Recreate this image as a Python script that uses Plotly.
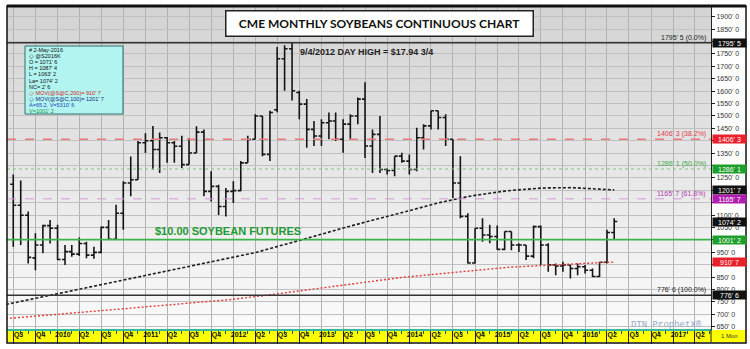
import plotly.graph_objects as go
import pandas as pd

# ---------------- data ----------------
month_start = "2009-07-01"          # first monthly bar (Jul 2009) ... last bar May 2016
bar_open = [1225, 1140, 1100, 928, 980, 1058,
            1047, 921, 953, 943, 986, 939, 950, 1051, 1003, 1108, 1230, 1243,
            1392, 1400, 1365, 1412, 1392, 1378, 1304, 1351, 1435, 1196, 1216, 1135,
            1196, 1199, 1311, 1406, 1500, 1345, 1525, 1731, 1771, 1595, 1548, 1446,
            1419, 1473, 1480, 1406, 1467, 1500, 1568, 1379, 1426, 1284, 1280, 1338,
            1318, 1284, 1412, 1460, 1521, 1494, 1406, 1230, 1095, 907, 1047, 1020,
            1014, 962, 1034, 980, 980, 935, 1054, 980, 899, 895, 899, 885,
            892, 878, 853, 910, 1030]
bar_high = [1264, 1240, 1115, 1027, 1061, 1081,
            1061, 980, 980, 1010, 993, 973, 1054, 1081, 1142, 1237, 1337, 1399,
            1430, 1460, 1433, 1415, 1399, 1420, 1410, 1459, 1446, 1277, 1223, 1210,
            1237, 1318, 1420, 1507, 1500, 1521, 1778, 1785, 1795, 1602, 1568, 1480,
            1487, 1514, 1514, 1487, 1507, 1575, 1636, 1446, 1500, 1290, 1338, 1352,
            1345, 1453, 1467, 1521, 1521, 1507, 1406, 1338, 1108, 1047, 1088, 1061,
            1058, 1034, 1034, 987, 980, 1058, 1058, 987, 905, 912, 899, 905,
            899, 885, 912, 1041, 1087.5]
bar_low = [973, 980, 905, 878, 946, 986,
           919, 899, 932, 935, 926, 924, 946, 1000, 1000, 1041, 1176, 1243,
           1351, 1284, 1270, 1311, 1311, 1290, 1304, 1351, 1176, 1155, 1101, 1095,
           1149, 1196, 1311, 1406, 1338, 1318, 1515, 1602, 1562, 1487, 1372, 1379,
           1379, 1406, 1399, 1352, 1406, 1467, 1331, 1270, 1270, 1264, 1257, 1311,
           1264, 1277, 1365, 1446, 1446, 1379, 1169, 1088, 905, 905, 993, 987,
           961, 959, 959, 952, 919, 926, 899, 872, 858, 872, 845, 858,
           865, 851, 851, 905, 1000]
bar_close = [1140, 1100, 930, 980, 1058, 1047,
             921, 953, 943, 986, 939, 950, 1051, 1003, 1108, 1230, 1243, 1392,
             1400, 1365, 1412, 1392, 1378, 1304, 1351, 1435, 1196, 1216, 1135, 1196,
             1199, 1311, 1405, 1500, 1345, 1514, 1731, 1771, 1602, 1548, 1446, 1419,
             1473, 1480, 1406, 1467, 1500, 1568, 1379, 1426, 1284, 1280, 1338, 1318,
             1284, 1412, 1460, 1521, 1494, 1406, 1230, 1095, 907, 1047, 1020, 1014,
             962, 1034, 980, 980, 935, 1054, 980, 899, 895, 899, 885, 892,
             878, 853, 910, 1030, 1074.25]

ma_start = "2009-06-01"             # moving averages, monthly from Jun 2009
ma100 = [740, 746, 752, 758, 764, 770, 777, 783, 789, 795, 801, 807, 813,
         819, 825, 831, 838, 844, 850, 856, 862, 868, 874, 880, 886,
         892, 899, 905, 911, 917, 923, 929, 935, 941, 949, 957, 966,
         974, 982, 990, 998, 1007, 1015, 1023, 1031, 1039, 1048, 1056, 1064,
         1072, 1080, 1089, 1097, 1105, 1113, 1120, 1128, 1135, 1142, 1149, 1156,
         1163, 1169, 1175, 1180, 1185, 1190, 1194, 1197, 1200, 1203, 1205, 1207,
         1209, 1210, 1211, 1211, 1211, 1210, 1209, 1207, 1205, 1203, 1202]
ma200 = [683, 685, 688, 690, 693, 695, 698, 700, 703, 705, 708, 710, 713,
         715, 718, 720, 723, 725, 728, 730, 733, 735, 738, 740, 743,
         745, 748, 750, 753, 756, 758, 761, 764, 767, 771, 775, 779,
         783, 787, 791, 795, 799, 803, 807, 811, 815, 819, 823, 827,
         831, 835, 839, 843, 846, 849, 852, 855, 858, 861, 864, 867,
         870, 873, 876, 879, 882, 885, 887, 889, 891, 892, 894, 895,
         897, 898, 900, 901, 903, 904, 906, 907, 908, 910, 911]

quarter_labels = ["Q3", "Q4", "2010", "Q2", "Q3", "Q4", "2011", "Q2", "Q3", "Q4",
                  "2012", "Q2", "Q3", "Q4", "2013", "Q2", "Q3", "Q4", "2014", "Q2",
                  "Q3", "Q4", "2015", "Q2", "Q3", "Q4", "2016", "Q2", "Q3", "Q4",
                  "2017", "Q2"]
y_tick_vals = [650, 700, 750, 800, 850, 900, 950, 1000, 1050, 1100, 1150, 1200, 1250,
               1300, 1350, 1400, 1450, 1500, 1550, 1600, 1650, 1700, 1750, 1800, 1850, 1900]
y_tick_text = ["650' 0", "700' 0", "750' 0", "800' 0", "850' 0", "", "950' 0", "",
               "1050' 0", "1100' 0", "", "", "1250' 0", "", "1350' 0", "", "1450' 0",
               "1500' 0", "1550' 0", "1600' 0", "1650' 0", "1700' 0", "1750' 0", "",
               "1850' 0", "1900' 0"]

fib_levels = [1795.625, 1406.4, 1286.2, 1165.9, 776.75]
fib_labels = ["1795' 5 (0.0%)", "1406' 3 (38.2%)", "1286' 1 (50.0%)",
              "1165' 7 (61.8%)", "776' 6 (100.0%)"]
ten_dollar_level = 1001.25

axis_box_values = [1795.625, 1406.4, 1286.2, 1201.9, 1165.9, 1074.25, 1001.25, 910.9, 776.75]
axis_box_text = ["1795' 5", "1406' 3", "1286' 1", "1201' 7", "1165' 7",
                 "1074' 2", "1001' 2", "910' 7", "776' 6"]

info_lines = ["# 2-May-2016", "\u25c7 @S2016K", "O = 1071' 6", "H = 1087' 4",
              "L = 1063' 2", "La= 1074' 2", "NC= 2' 6",
              "\u25c7 MOV(@S@C,200)= 910' 7", "\u25c7 MOV(@S@C,100)= 1201' 7",
              "A=65.2, V=5310' 6", "V=1001' 2"]

# ---------------- styling helpers ----------------
W, H = 750, 349
L_, R_, T_, B_ = 7, 39, 7, 20
PW, PH = W - L_ - R_, H - T_ - B_


def px(X):
    return (X - L_) / PW


def py(Y):
    return (H - B_ - Y) / PH


month_dates = pd.date_range(month_start, periods=len(bar_open), freq="MS")
ma_dates = pd.date_range(ma_start, periods=len(ma100), freq="MS")
quarter_starts = pd.date_range("2009-07-01", periods=len(quarter_labels), freq="QS")
label_pos = quarter_starts + pd.Timedelta(days=22)

fig = go.Figure()
fig.add_trace(go.Scatter(x=ma_dates, y=ma200, mode="lines",
                         line=dict(color="#e03a3a", width=1.4, dash="2px,2px"),
                         hoverinfo="skip", showlegend=False))
fig.add_trace(go.Scatter(x=ma_dates, y=ma100, mode="lines",
                         line=dict(color="#1e1e1e", width=1.6, dash="3px,2px"),
                         hoverinfo="skip", showlegend=False))
fig.add_trace(go.Ohlc(x=month_dates, open=bar_open, high=bar_high, low=bar_low,
                      close=bar_close, tickwidth=0.45,
                      increasing=dict(line=dict(color="#151515", width=1.6)),
                      decreasing=dict(line=dict(color="#151515", width=1.6)),
                      showlegend=False))
fig.add_trace(go.Scatter(x=[quarter_starts[0]], y=[None], xaxis="x2", mode="lines",
                         hoverinfo="skip", showlegend=False))

shapes = []
# gradient plot background
n_strips = 24
for i in range(n_strips):
    g = int(212 + (250 - 212) * i / (n_strips - 1))
    shapes.append(dict(type="rect", xref="paper", yref="paper", x0=0, x1=1,
                       y0=1 - (i + 1) / n_strips, y1=1 - i / n_strips,
                       fillcolor=f"rgb({g},{g},{g})", line=dict(width=0), layer="below"))
# yellow date band
shapes.append(dict(type="rect", xref="paper", yref="paper", x0=0, x1=px(746),
                   y0=py(342), y1=py(330), fillcolor="#ffff00",
                   line=dict(width=0), layer="below"))
shapes.append(dict(type="line", xref="paper", yref="paper", x0=1, x1=1,
                   y0=py(342), y1=py(329), line=dict(color="#222", width=1)))
# fib / reference lines
fib_styles = [dict(color="#333333", width=1.5),
              dict(color="#ec7a7a", width=1.5, dash="dash"),
              dict(color="#7cc47c", width=1, dash="dot"),
              dict(color="#d49ad4", width=1, dash="dash"),
              dict(color="#333333", width=1.5)]
for lvl, st in zip(fib_levels, fib_styles):
    shapes.append(dict(type="line", xref="paper", yref="y", x0=0, x1=1, y0=lvl, y1=lvl,
                       line=st, layer="above"))
shapes.append(dict(type="line", xref="paper", yref="y", x0=0, x1=1,
                   y0=ten_dollar_level, y1=ten_dollar_level,
                   line=dict(color="#3cb44a", width=1.6), layer="above"))
# info box
shapes.append(dict(type="rect", xref="paper", yref="paper", x0=px(25), x1=px(123),
                   y0=py(114), y1=py(46), fillcolor="#b2f4ef",
                   line=dict(color="#2e6e6e", width=1), layer="above"))
# outer frame
shapes.append(dict(type="rect", xref="paper", yref="paper", x0=0, x1=px(746),
                   y0=py(343), y1=py(6), line=dict(color="#111", width=1.5)))
shapes.append(dict(type="line", xref="paper", yref="paper", x0=0, x1=px(746),
                   y0=py(6), y1=py(6), line=dict(color="#111", width=3)))

ann = []
ann.append(dict(text="<b>CME MONTHLY SOYBEANS CONTINUOUS CHART</b>", xref="paper",
                yref="paper", x=px(379), y=py(23.5), showarrow=False,
                font=dict(family="Lato", size=12, color="#111"), bgcolor="white",
                bordercolor="#222", borderwidth=1.5, width=304, height=22,
                xanchor="center", yanchor="middle"))
ann.append(dict(text="<b>9/4/2012 DAY HIGH = $17.94 3/4</b>", xref="x", yref="y",
                x="2012-09-26", y=1760, showarrow=False, xanchor="left",
                yanchor="middle", font=dict(family="Liberation Sans", size=9, color="#222")))
ann.append(dict(text="<b>$10.00 SOYBEAN FUTURES</b>", xref="x", yref="y",
                x="2011-02-01", y=ten_dollar_level, yshift=1, showarrow=False,
                xanchor="left", yanchor="bottom",
                font=dict(family="Liberation Sans", size=11, color="#1f9a34")))
fib_colors = ["#222", "#e0404a", "#3aa84a", "#b040b0", "#222"]
for lvl, txt, c in zip(fib_levels, fib_labels, fib_colors):
    ann.append(dict(text=txt, xref="paper", yref="y", x=px(708), y=lvl, showarrow=False,
                    xanchor="right", yanchor="bottom", yshift=-1,
                    font=dict(family="Liberation Sans", size=7, color=c)))
box_colors = ["#111", "#e8202a", "#1e9e2a", "#111", "#b01eb0", "#111", "#1e9e2a",
              "#e8202a", "#111"]
for v, t, c in zip(axis_box_values, axis_box_text, box_colors):
    ann.append(dict(text=t, xref="paper", yref="y", x=1, xshift=1, y=v, showarrow=False,
                    xanchor="left", yanchor="middle", width=33, height=8, borderpad=0,
                    bgcolor=c, font=dict(family="Liberation Sans", size=7, color="white")))
info_colors = ["#111"] * 7 + ["#d42020", "#1a2a80", "#1f3fbf", "#1a9a3a"]
for i, (t, c) in enumerate(zip(info_lines, info_colors)):
    ann.append(dict(text=t, xref="paper", yref="paper", x=px(27), y=py(50 + 6.1 * i),
                    showarrow=False, xanchor="left", yanchor="middle",
                    font=dict(family="Liberation Sans", size=5.5, color=c)))
ann.append(dict(text="DTN ProphetX\u00ae", xref="paper", yref="paper", x=px(704),
                y=py(325), showarrow=False, xanchor="right", yanchor="middle",
                font=dict(family="Liberation Mono", size=9, color="#92a8c8")))
ann.append(dict(text="1 Mon", xref="paper", yref="paper", x=px(729), y=py(336),
                showarrow=False, xanchor="center", yanchor="middle",
                font=dict(family="Liberation Sans", size=6, color="#333")))

fig.update_layout(
    width=W, height=H, margin=dict(l=L_, r=R_, t=T_, b=B_),
    paper_bgcolor="white", plot_bgcolor="#e6e6e6", showlegend=False,
    shapes=shapes, annotations=ann,
    xaxis=dict(type="date", range=["2009-06-05", "2017-06-07"], tickmode="linear",
               tick0="2009-07-01", dtick="M3", ticks="outside", ticklen=13,
               tickcolor="#222", tickwidth=1, showticklabels=False, showgrid=True,
               gridcolor="#b2b2b2", gridwidth=1, showline=True, linecolor="#36b89a",
               linewidth=2, zeroline=False, rangeslider=dict(visible=False),
               minor=dict(ticks="outside", ticklen=3, tickcolor="#1f5f40",
                          dtick="M1", tick0="2009-07-01", showgrid=False)),
    xaxis2=dict(type="date", overlaying="x", matches="x", anchor="y", side="bottom",
                tickmode="array", tickvals=label_pos,
                ticktext=["<b>" + s + "</b>" for s in quarter_labels],
                tickfont=dict(family="Liberation Sans", size=7, color="#111"),
                ticks="", showgrid=False, showline=False, zeroline=False),
    yaxis=dict(side="right", range=[641, 1939.5], tickmode="array",
               tickvals=y_tick_vals, ticktext=y_tick_text,
               tickfont=dict(family="Liberation Sans", size=7, color="#333"),
               ticks="outside", ticklen=3, tickcolor="#222", showgrid=True,
               gridcolor="#c0c0c0", gridwidth=1, showline=True, linecolor="#222",
               linewidth=1, zeroline=False),
)

fig.write_html("out.html")
